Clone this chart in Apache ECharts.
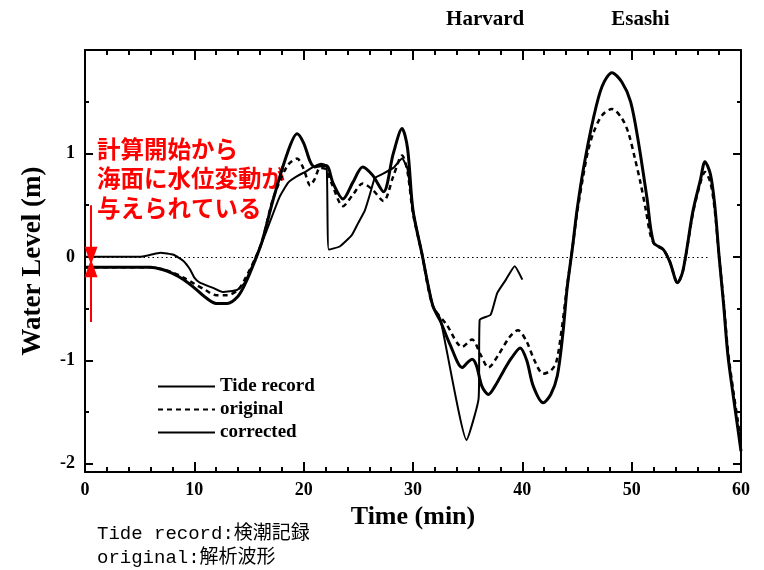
<!DOCTYPE html>
<html>
<head>
<meta charset="utf-8">
<script src="https://cdn.jsdelivr.net/npm/echarts@6/dist/echarts.min.js"></script>
<style>
html,body{margin:0;padding:0;background:#fff;}
#chart{width:764px;height:570px;}
</style>
</head>
<body>
<div id="chart"></div>
<script>
// ---- data (time in minutes, water level in m) ----
const seriesNames = ['Tide record', 'original', 'corrected'];
const xTicks = [0, 10, 20, 30, 40, 50, 60];
const yMajor = [-2, -1, 0, 1];
const yMinor = [-1.5, -0.5, 0.5, 1.5];
const stationLabels = ['Harvard', 'Esashi'];
const stationTimes = [36.6, 50.8];

const tideRecord = [
  [0,0],[5,0],[6,0.02],[6.9,0.04],[8.1,0.02],[9.0,-0.04],[9.6,-0.12],[10.0,-0.2],[10.5,-0.25],
  [11.7,-0.3],[12.6,-0.34],[13.9,-0.32],[14.6,-0.25],[15.4,-0.06],[15.8,0.04],[16.6,0.25],
  [17.8,0.58],[18.6,0.72],[19.4,0.78],[20.1,0.82],[20.9,0.87],[21.6,0.9],[22.1,0.88],[22.3,0.07],
  [23.3,0.1],[24.4,0.21],[25.0,0.33],[25.6,0.45],[26.1,0.62],[26.5,0.76],[27.0,0.79],[28.2,0.86],
  [29.0,0.95],[29.5,0.85],[30.0,0.45],[30.8,0.04],[31.8,-0.47],[32.5,-0.6],[34.9,-1.77],
  [36.0,-1.37],[36.1,-0.61],[37.1,-0.56],[37.7,-0.35],[38.5,-0.22],[39.3,-0.09],[40.0,-0.22]
];
const original = [
  [0,-0.1],[6,-0.1],[7,-0.12],[8,-0.15],[9,-0.2],[10,-0.26],[11,-0.32],[12,-0.37],[13,-0.37],
  [14,-0.32],[14.7,-0.2],[15.5,-0.03],[16.2,0.15],[17.2,0.56],[18.5,0.88],[19.4,0.95],[20.0,0.85],
  [20.6,0.69],[21.0,0.75],[21.5,0.86],[22.0,0.85],[22.6,0.7],[23.6,0.49],[24.5,0.6],[25.4,0.71],
  [26.3,0.65],[27.3,0.54],[28.2,0.78],[29.0,0.98],[29.5,0.82],[30.0,0.42],[30.8,0.04],[31.8,-0.47],
  [33.1,-0.66],[34.5,-0.87],[35.4,-0.8],[36.2,-0.95],[36.9,-1.07],[37.8,-0.95],[38.8,-0.78],
  [39.6,-0.71],[40.4,-0.82],[41.1,-1.0],[41.9,-1.13],[42.6,-1.1],[43.1,-1.02],[43.6,-0.7],
  [44.1,-0.28],[44.6,0.1],[45.0,0.42],[45.6,0.8],[46.0,1.02],[46.5,1.2],[47.3,1.37],[48.2,1.43],
  [49.1,1.34],[49.7,1.2],[50.3,0.95],[50.8,0.72],[51.3,0.45],[51.7,0.22],[52.1,0.12],[52.9,0.07],
  [53.5,-0.05],[54.2,-0.25],[54.7,-0.13],[55.6,0.42],[56.3,0.72],[56.7,0.82],[57.2,0.72],
  [57.6,0.45],[58.0,0.0],[58.4,-0.42],[58.8,-0.9],[59.3,-1.3],[59.7,-1.58],[60,-1.78]
];
const corrected = [
  [0,-0.1],[6,-0.1],[7,-0.12],[8,-0.16],[9,-0.22],[10,-0.3],[11,-0.39],[12,-0.45],[13,-0.45],
  [14,-0.38],[14.7,-0.25],[15.5,-0.05],[16.2,0.15],[17.2,0.55],[18.5,1.0],[19.4,1.19],[20.0,1.1],
  [20.6,0.92],[21.0,0.87],[21.6,0.88],[22.1,0.88],[22.7,0.71],[23.6,0.56],[24.5,0.72],[25.4,0.87],
  [26.3,0.79],[27.3,0.63],[28.2,1.0],[29.0,1.24],[29.5,1.05],[30.0,0.45],[30.8,0.04],[31.8,-0.47],
  [32.5,-0.62],[33.4,-0.85],[34.5,-1.07],[35.0,-1.02],[35.4,-0.99],[35.8,-1.05],[36.3,-1.25],
  [36.9,-1.33],[37.5,-1.25],[38.3,-1.1],[39.0,-0.98],[39.8,-0.88],[40.4,-1.0],[41.0,-1.25],
  [41.9,-1.41],[42.6,-1.33],[43.2,-1.15],[43.7,-0.75],[44.1,-0.3],[44.6,0.1],[45.0,0.45],
  [45.6,0.86],[46.5,1.34],[47.3,1.65],[48.2,1.78],[49.1,1.69],[49.9,1.5],[50.6,1.12],[51.4,0.57],
  [52.0,0.14],[52.9,0.07],[53.5,-0.05],[54.2,-0.25],[54.7,-0.13],[55.6,0.44],[56.3,0.75],
  [56.7,0.92],[57.2,0.8],[57.6,0.5],[58.0,0.0],[58.4,-0.45],[58.8,-0.95],[59.3,-1.35],
  [59.7,-1.65],[60,-1.88]
];
const annotationLines = ['計算開始から', '海面に水位変動が', '与えられている'];
const noteLines = ['Tide record:検潮記録', 'original:解析波形'];

// ---- chart ----
const chart = echarts.init(document.getElementById('chart'), null, {renderer: 'canvas'});
const serif = "'Liberation Serif', 'DejaVu Serif', serif";
const black = '#000';
const Y_MIN = -2.08, Y_MAX = 2.0;

function xAxisDef(pos, showLabel) {
  return {
    type: 'value', min: 0, max: 60, interval: 10, position: pos,
    axisLine: {show: true, onZero: false, lineStyle: {color: black, width: 2}},
    axisTick: {show: true, inside: true, length: 10, lineStyle: {color: black, width: 2}},
    minorTick: {show: true, splitNumber: 5, length: 5, lineStyle: {color: black, width: 2}},
    splitLine: {show: false},
    axisLabel: {show: showLabel, color: black, fontFamily: serif, fontWeight: 'bold', fontSize: 18, margin: 9,
      customValues: xTicks},
    name: showLabel ? 'Time (min)' : '',
    nameLocation: 'middle', nameGap: 27,
    nameTextStyle: {color: black, fontFamily: serif, fontWeight: 'bold', fontSize: 26}
  };
}
function yAxisDef(pos, values, len, showLine, showLabel, name) {
  return {
    type: 'value', min: Y_MIN, max: Y_MAX, position: pos,
    axisLine: {show: showLine, onZero: false, lineStyle: {color: black, width: 2}},
    axisTick: {show: true, inside: true, length: len, customValues: values, lineStyle: {color: black, width: 2}},
    splitLine: {show: false},
    axisLabel: {show: showLabel, customValues: values, color: black, fontFamily: serif, fontWeight: 'bold', fontSize: 18, margin: 10},
    name: name || '', nameLocation: 'middle', nameGap: 38, nameRotate: 90,
    nameTextStyle: {color: black, fontFamily: serif, fontWeight: 'bold', fontSize: 27}
  };
}

const labelFont = {color: black, fontFamily: serif, fontWeight: 'bold', fontSize: 19};

const option = {
  animation: false,
  backgroundColor: '#fff',
  grid: {left: 85, right: 23, top: 50, bottom: 98, containLabel: false},
  legend: {
    orient: 'vertical', left: 152, top: 372, itemGap: 4, itemWidth: 57, itemHeight: 18,
    data: seriesNames, textStyle: labelFont, selectedMode: false,
    itemStyle: {opacity: 0}
  },
  xAxis: [xAxisDef('bottom', true), xAxisDef('top', false)],
  yAxis: [
    yAxisDef('left', yMajor, 8, true, true, 'Water Level (m)'),
    yAxisDef('left', yMinor, 4, false, false),
    yAxisDef('right', yMajor, 8, true, false),
    yAxisDef('right', yMinor, 4, false, false)
  ],
  series: [
    {
      name: seriesNames[0], type: 'line', data: tideRecord, xAxisIndex: 0, yAxisIndex: 0,
      showSymbol: false, symbol: 'none', smooth: 0.15,
      lineStyle: {color: black, width: 2}, itemStyle: {color: black},
      markLine: {
        silent: true, symbol: 'none', label: {show: false},
        lineStyle: {color: black, width: 1.2, type: [1.5, 3]},
        data: [[{coord: [0, 0]}, {coord: [57, 0]}]]
      },
      z: 3
    },
    {
      name: seriesNames[1], type: 'line', data: original, xAxisIndex: 0, yAxisIndex: 0,
      showSymbol: false, symbol: 'none', smooth: 0.3,
      lineStyle: {color: black, width: 2.5, type: [5, 4]}, itemStyle: {color: black},
      z: 3
    },
    {
      name: seriesNames[2], type: 'line', data: corrected, xAxisIndex: 0, yAxisIndex: 0,
      showSymbol: false, symbol: 'none', smooth: 0.3,
      lineStyle: {color: black, width: 3}, itemStyle: {color: black},
      markLine: {
        silent: true, label: {show: false}, symbol: ['none', 'triangle'], symbolSize: [13, 18],
        lineStyle: {color: '#ff0000', width: 2, type: 'solid'},
        data: [
          [{coord: [0.55, 0.5]}, {coord: [0.55, 0.01]}],
          [{coord: [0.55, -0.63]}, {coord: [0.55, -0.11]}]
        ]
      },
      z: 4
    }
  ],
  graphic: [
    ...stationLabels.map((t, i) => ({
      type: 'text', x: 85 + stationTimes[i] / 60 * 656, y: 20,
      style: {text: t, fill: black, font: "bold 21px " + serif, textAlign: 'center', textVerticalAlign: 'middle'}
    })),
    ...annotationLines.map((t, i) => ({
      type: 'text', x: 97, y: 149 + i * 29.5,
      style: {text: t, fill: '#ff0000', font: "bold 23.5px 'Noto Sans CJK JP'", textAlign: 'left', textVerticalAlign: 'middle'}
    })),
    ...noteLines.map((t, i) => ({
      type: 'text', x: 97, y: 534 + i * 24,
      style: {text: t, fill: black, font: "19px 'Liberation Mono', 'Noto Sans CJK JP'", textAlign: 'left', textVerticalAlign: 'middle'}
    }))
  ]
};
chart.setOption(option);
</script>
</body>
</html>
